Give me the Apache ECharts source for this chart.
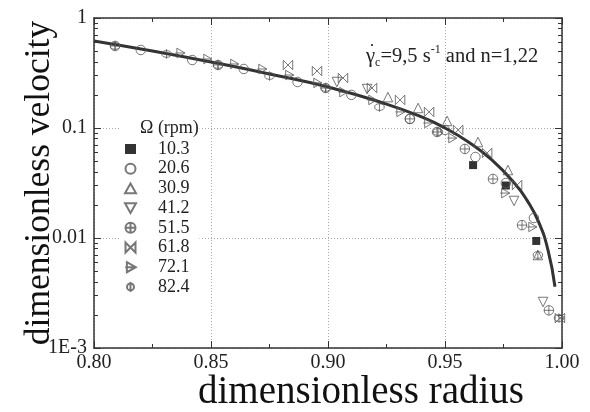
<!DOCTYPE html>
<html>
<head>
<meta charset="utf-8">
<script src="https://cdn.jsdelivr.net/npm/echarts@6/dist/echarts.min.js"></script>
<style>
  html, body { margin: 0; padding: 0; background: #fff; }
  #main { width: 590px; height: 412px; }
</style>
</head>
<body>
<div id="main"></div>
<script>
const FONT = "Liberation Serif";

// fitted curve
const curveX = [0.800, 0.825, 0.850, 0.875, 0.900, 0.925, 0.940, 0.950, 0.960, 0.970, 0.980, 0.985, 0.990, 0.994, 0.997];
const curveY = [0.618, 0.501, 0.398, 0.310, 0.236, 0.165, 0.126, 0.100, 0.0746, 0.0512, 0.031, 0.0221, 0.014, 0.0078, 0.0036];

// measured points per rotation speed, [radius, velocity]
const rpm103 = [[0.962, 0.046], [0.976, 0.030], [0.989, 0.0094]];
const rpm206 = [[0.820, 0.512], [0.842, 0.415], [0.864, 0.344], [0.887, 0.262], [0.910, 0.200], [0.935, 0.121], [0.950, 0.096], [0.963, 0.0545], [0.976, 0.0316], [0.988, 0.0152]];
const rpm309 = [[0.9256, 0.191], [0.9385, 0.152], [0.9509, 0.116], [0.9641, 0.0746], [0.9769, 0.0415], [0.9897, 0.0070]];
const rpm412 = [[0.9038, 0.262], [0.9167, 0.226], [0.9795, 0.0217], [0.9919, 0.00262]];
const rpm515 = [[0.809, 0.557], [0.853, 0.374], [0.899, 0.231], [0.935, 0.121], [0.9466, 0.092], [0.9585, 0.0645], [0.9705, 0.0344], [0.9829, 0.0131], [0.9944, 0.0022]];
const rpm618 = [[0.8829, 0.374], [0.8953, 0.330], [0.9064, 0.285], [0.9188, 0.231], [0.9308, 0.180], [0.9432, 0.140], [0.9556, 0.096], [0.968, 0.0593], [0.9808, 0.0303], [0.9991, 0.00187]];
const rpm721 = [[0.8368, 0.481], [0.8483, 0.424], [0.8598, 0.382], [0.8718, 0.344], [0.8833, 0.303], [0.8953, 0.257], [0.9064, 0.212], [0.9188, 0.180], [0.9308, 0.140], [0.9427, 0.111], [0.953, 0.081], [0.9756, 0.0256], [0.9872, 0.0126]];
const rpm824 = [[0.809, 0.557], [0.831, 0.471], [0.853, 0.374], [0.875, 0.297], [0.899, 0.231], [0.922, 0.155], [0.947, 0.092], [0.9897, 0.0070], [0.9987, 0.00187]];

const seriesNames = ["10.3", "20.6", "30.9", "41.2", "51.5", "61.8", "72.1", "82.4"];
const velocityLabels = ["1E-3", "0.01", "0.1", "1"];
const minorVelocityTicks = [0.002, 0.003, 0.004, 0.005, 0.006, 0.007, 0.008, 0.009,
  0.02, 0.03, 0.04, 0.05, 0.06, 0.07, 0.08, 0.09,
  0.2, 0.3, 0.4, 0.5, 0.6, 0.7, 0.8, 0.9];

const symbols = {
  "10.3": "rect",
  "20.6": "path://M10,0 A10,10 0 1,1 -10,0 A10,10 0 1,1 10,0 Z",
  "30.9": "path://M0,-9 L9,7 L-9,7 Z",
  "41.2": "path://M0,9 L9,-7 L-9,-7 Z",
  "51.5": "path://M10,0 A10,10 0 1,1 -10,0 A10,10 0 1,1 10,0 Z M-10,0 L10,0 M0,-10 L0,10",
  "61.8": "path://M-9,-9 L9,9 L9,-9 L-9,9 Z",
  "72.1": "path://M-7,-9 L9,0 L-7,9 Z M-10,0 L9,0",
  "82.4": "path://M7,0 A7,7 0 1,1 -7,0 A7,7 0 1,1 7,0 Z M0,-10 L0,10"
};
const pointData = [rpm103, rpm206, rpm309, rpm412, rpm515, rpm618, rpm721, rpm824];

const axisColor = "#333";
const gridLine = { show: true, lineStyle: { color: "#aaa", type: [1, 2], width: 1 } };

const scatterSeries = seriesNames.map((name, i) => ({
  name,
  type: "scatter",
  data: pointData[i],
  symbol: symbols[name],
  symbolSize: name === "10.3" ? 8 : 9.5,
  itemStyle: name === "10.3"
    ? { color: "#000" }
    : { color: "rgba(255,255,255,0)", borderColor: "#555", borderWidth: 1 },
  z: 3
}));

const option = {
  animation: false,
  grid: { left: 94, right: 28, top: 18, bottom: 64, outerBoundsMode: "none" },
  legend: {
    orient: "vertical",
    left: 120,
    top: 118,
    data: seriesNames,
    itemWidth: 11,
    itemHeight: 10,
    itemGap: 1.7,
    padding: [22, 10, 4, 4],
    backgroundColor: "#fff",
    textStyle: { fontFamily: FONT, fontSize: 18, color: "#222", lineHeight: 18, padding: [0, 0, 0, 17] }
  },
  xAxis: [
    {
      type: "value", min: 0.8, max: 1.0, interval: 0.05, position: "bottom",
      axisLine: { lineStyle: { color: axisColor, width: 1.5 } },
      axisTick: { inside: true, length: 7, lineStyle: { color: axisColor } },
      minorTick: { show: true, splitNumber: 2, length: 4, lineStyle: { color: axisColor } },
      splitLine: gridLine,
      axisLabel: { fontFamily: FONT, fontSize: 20, color: "#222", margin: 5, formatter: (v) => v.toFixed(2) },
      name: "dimensionless radius", nameLocation: "middle", nameGap: 25, nameMoveOverlap: false,
      nameTextStyle: { fontFamily: FONT, fontSize: 39, color: "#111", padding: [0, 0, 0, 66] }
    },
    {
      type: "value", min: 0.8, max: 1.0, interval: 0.05, position: "top",
      axisLine: { lineStyle: { color: axisColor, width: 1.5 } },
      axisTick: { inside: true, length: 7, lineStyle: { color: axisColor } },
      minorTick: { show: true, splitNumber: 2, length: 4, lineStyle: { color: axisColor } },
      splitLine: { show: false },
      axisLabel: { show: false }
    }
  ],
  yAxis: [
    {
      type: "log", logBase: 10, min: 0.001, max: 1, position: "left",
      axisLine: { lineStyle: { color: axisColor, width: 1.5 } },
      axisTick: { inside: true, length: 7, lineStyle: { color: axisColor } },
      splitLine: gridLine,
      axisLabel: {
        fontFamily: FONT, fontSize: 20, color: "#222", margin: 7,
        formatter: (v) => velocityLabels[Math.round(Math.log10(v)) + 3]
      },
      name: "dimensionless velocity", nameLocation: "middle", nameGap: 36, nameMoveOverlap: false,
      nameTextStyle: { fontFamily: FONT, fontSize: 35.5, color: "#111" }
    },
    {
      type: "log", logBase: 10, min: 0.001, max: 1, position: "left",
      axisLine: { show: false },
      axisTick: { inside: true, length: 4, customValues: minorVelocityTicks, lineStyle: { color: axisColor } },
      axisLabel: { show: false }, splitLine: { show: false }
    },
    {
      type: "log", logBase: 10, min: 0.001, max: 1, position: "right",
      axisLine: { lineStyle: { color: axisColor, width: 1.5 } },
      axisTick: { inside: true, length: 7, lineStyle: { color: axisColor } },
      axisLabel: { show: false }, splitLine: { show: false }
    },
    {
      type: "log", logBase: 10, min: 0.001, max: 1, position: "right",
      axisLine: { show: false },
      axisTick: { inside: true, length: 4, customValues: minorVelocityTicks, lineStyle: { color: axisColor } },
      axisLabel: { show: false }, splitLine: { show: false }
    }
  ],
  graphic: [
    {
      type: "text", left: 140, top: 119, z: 100,
      style: { text: "Ω (rpm)", font: "18px " + FONT, fill: "#222" }
    },
    {
      type: "text", x: 366, y: 44, z: 100,
      style: {
        text: "{g|γ}{s|c}{t|=9,5 s}{p|-1}{t| and n=1,22}",
        rich: {
          g: { fontFamily: FONT, fontSize: 20.5, fill: "#222", lineHeight: 25, verticalAlign: "middle" },
          s: { fontFamily: FONT, fontSize: 12, fill: "#222", lineHeight: 25, verticalAlign: "bottom" },
          t: { fontFamily: FONT, fontSize: 20.5, fill: "#222", lineHeight: 25, verticalAlign: "middle" },
          p: { fontFamily: FONT, fontSize: 12, fill: "#222", lineHeight: 25, verticalAlign: "top" }
        }
      }
    },
    {
      type: "circle", z: 100,
      shape: { cx: 372, cy: 45, r: 1.1 },
      style: { fill: "#222" }
    }
  ],
  series: [
    {
      name: "fit",
      type: "line",
      data: curveX.map((x, i) => [x, curveY[i]]),
      smooth: true,
      symbol: "none",
      lineStyle: { color: "#333", width: 3 },
      z: 2
    },
    ...scatterSeries
  ]
};

const myChart = echarts.init(document.getElementById("main"));
myChart.setOption(option);
</script>
</body>
</html>
